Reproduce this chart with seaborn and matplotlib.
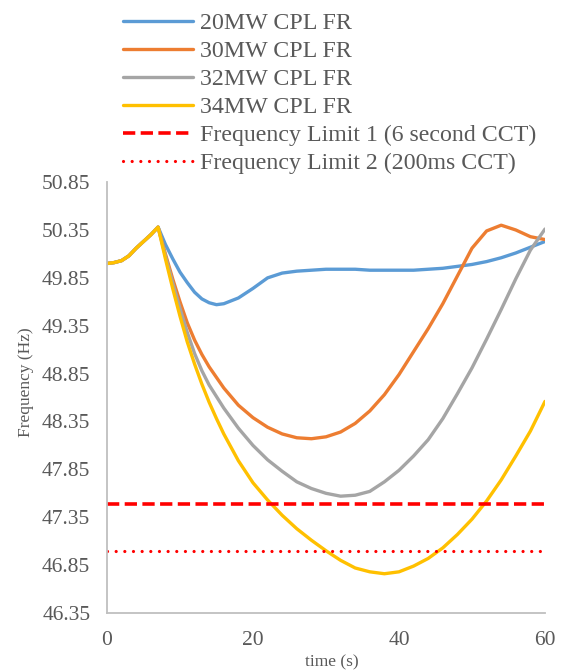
import numpy as np
import pandas as pd
import matplotlib
matplotlib.use("Agg")
import matplotlib.pyplot as plt
import seaborn as sns

# Time axis (s)
time_s = [0, 1, 2, 3, 4, 5, 6, 7, 8, 9, 10, 11, 12, 13, 14, 15, 16, 18, 20,
          22, 24, 26, 28, 30, 32, 34, 36, 38, 40, 42, 44, 46, 48, 50, 52,
          54, 56, 58, 60]

# Frequency response (Hz) for each constant-power-load level
freq_20mw = [50.00, 50.01, 50.03, 50.08, 50.16, 50.23, 50.30, 50.38, 50.20,
             50.05, 49.91, 49.80, 49.70, 49.63, 49.59, 49.57, 49.58, 49.64,
             49.74, 49.85, 49.90, 49.92, 49.93, 49.94, 49.94, 49.94, 49.93,
             49.93, 49.93, 49.93, 49.94, 49.95, 49.97, 49.99, 50.02, 50.06,
             50.11, 50.17, 50.23]
freq_30mw = [50.00, 50.01, 50.03, 50.08, 50.16, 50.23, 50.30, 50.38, 50.10,
             49.84, 49.60, 49.38, 49.20, 49.05, 48.92, 48.81, 48.70, 48.52,
             48.39, 48.29, 48.22, 48.18, 48.17, 48.19, 48.24, 48.33, 48.46,
             48.63, 48.84, 49.08, 49.32, 49.58, 49.87, 50.16, 50.34, 50.40,
             50.35, 50.28, 50.25]
freq_32mw = [50.00, 50.01, 50.03, 50.08, 50.16, 50.23, 50.30, 50.38, 50.08,
             49.80, 49.53, 49.28, 49.06, 48.88, 48.73, 48.61, 48.49, 48.28,
             48.10, 47.95, 47.83, 47.72, 47.65, 47.60, 47.57, 47.58, 47.62,
             47.72, 47.84, 47.99, 48.16, 48.38, 48.64, 48.91, 49.21, 49.52,
             49.84, 50.14, 50.36]
freq_34mw = [50.00, 50.01, 50.03, 50.08, 50.16, 50.23, 50.30, 50.38, 50.05,
             49.74, 49.45, 49.18, 48.95, 48.74, 48.55, 48.38, 48.22, 47.94,
             47.71, 47.53, 47.37, 47.23, 47.11, 47.00, 46.90, 46.82, 46.78,
             46.76, 46.78, 46.84, 46.92, 47.03, 47.17, 47.33, 47.52, 47.74,
             47.99, 48.25, 48.56]

# Under-frequency limits (Hz)
limit_times = [0, 60]
limit_1 = [47.49, 47.49]
limit_2 = [47.00, 47.00]

series_labels = ["20MW CPL FR", "30MW CPL FR", "32MW CPL FR", "34MW CPL FR"]
series_colors = ["#5B9BD5", "#ED7D31", "#A5A5A5", "#FFC000"]
y_ticks = [46.35, 46.85, 47.35, 47.85, 48.35, 48.85, 49.35, 49.85, 50.35, 50.85]
x_ticks = [0, 20, 40, 60]

sns.set_theme(style="white")
plt.rcParams["font.family"] = ["Liberation Serif", "DejaVu Serif"]

fig = plt.figure(figsize=(5.61, 6.72), dpi=100)
ax = fig.add_axes([0.1907, 0.0878, 0.7808, 0.6412])

for vals, lab, col in zip([freq_20mw, freq_30mw, freq_32mw, freq_34mw],
                          series_labels, series_colors):
    sns.lineplot(x=time_s, y=vals, ax=ax, color=col, linewidth=2.4,
                 label=lab, solid_capstyle="round", solid_joinstyle="round")

sns.lineplot(x=limit_times, y=limit_1, ax=ax, color="#FF0000", linewidth=2.6,
             linestyle=(0, (3.4, 1.5)),
             label="Frequency Limit 1 (6 second CCT)")
sns.lineplot(x=limit_times[:1] + [59.3], y=limit_2, ax=ax, color="#FF0000",
             linewidth=2.3, linestyle=(0, (0.01, 2.7)),
             dash_capstyle="round",
             label="Frequency Limit 2 (200ms CCT)")

ax.set_xlim(0, 60)
ax.set_ylim(46.35, 50.85)
ax.set_xticks(x_ticks)
ax.set_yticks(y_ticks)
ax.set_yticklabels([f"{v:.2f}" for v in y_ticks])
ax.tick_params(axis="both", length=0, labelsize=15.5, labelcolor="#595959")
ax.tick_params(axis="y", pad=12)
ax.tick_params(axis="x", pad=13)

for side in ["top", "right"]:
    ax.spines[side].set_visible(False)
for side in ["left", "bottom"]:
    ax.spines[side].set_color("#BFBFBF")
    ax.spines[side].set_linewidth(1.3)

ax.set_xlabel("time (s)", fontsize=12.5, color="#595959")
ax.set_ylabel("Frequency (Hz)", fontsize=12.5, color="#595959")
ax.xaxis.set_label_coords(0.514, -0.097)
ax.yaxis.set_label_coords(-0.167, 0.536)

handles, labels = ax.get_legend_handles_labels()
ax.get_legend().remove()
fig.legend(handles, labels, loc="upper left", bbox_to_anchor=(0.219, 0.981),
           frameon=False, fontsize=17.2, labelcolor="#595959",
           handlelength=2.95, handletextpad=0.3, labelspacing=0.26,
           borderpad=0, borderaxespad=0)

fig.savefig("out.png", dpi=100)
